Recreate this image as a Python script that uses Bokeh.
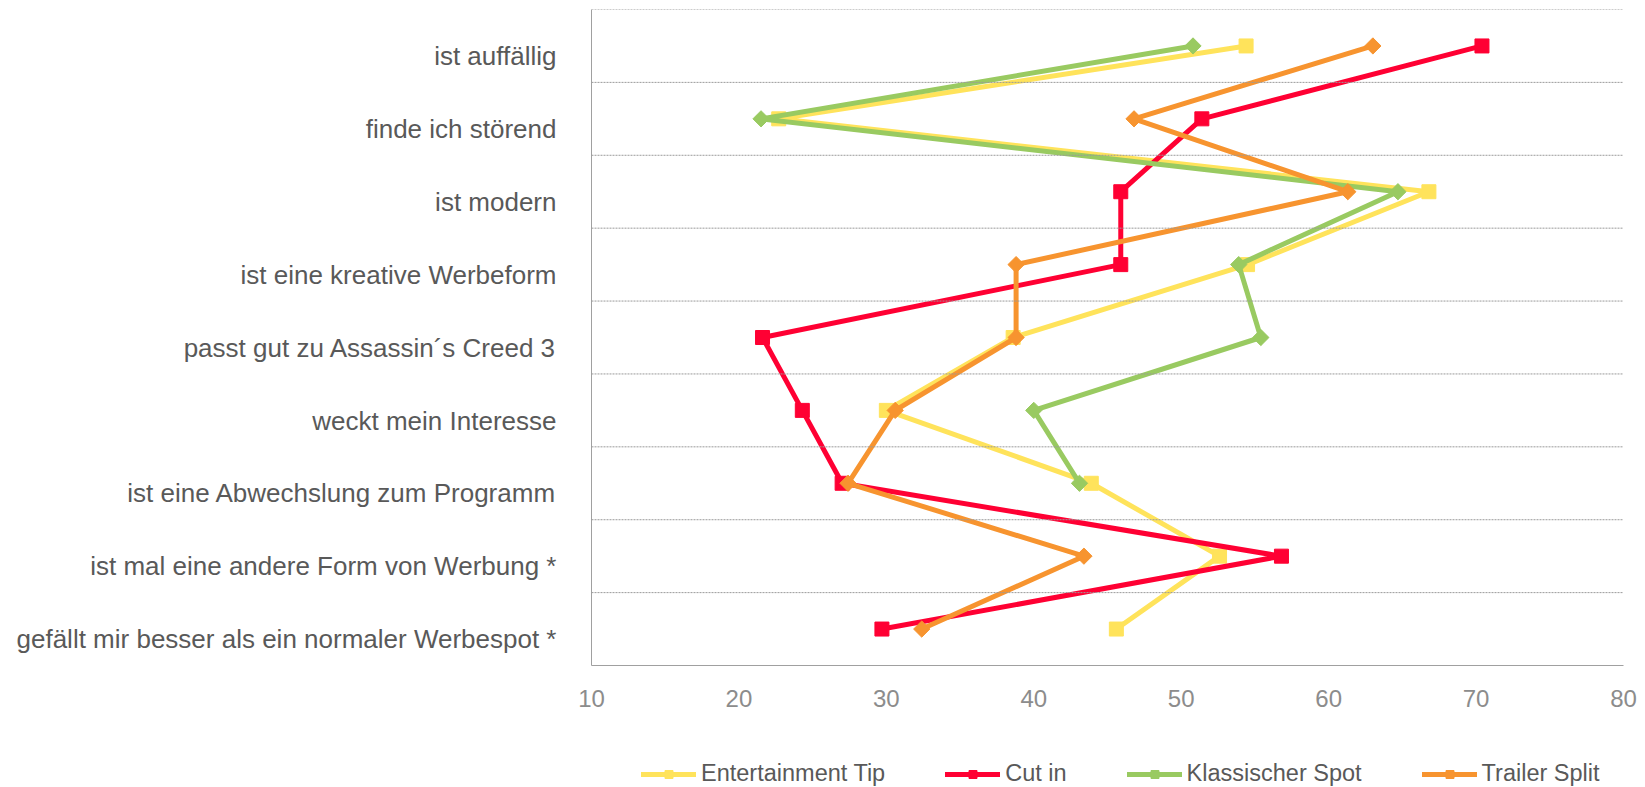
import math
from bokeh.plotting import figure
from bokeh.layouts import column
from bokeh.models import (Range1d, FixedTicker, Span, Legend, LegendItem,
                          ColumnDataSource, LinearAxis)
from bokeh.embed import file_html
from bokeh.resources import INLINE

nan = float("nan")

categories = [
    "ist auffällig",
    "finde ich störend",
    "ist modern",
    "ist eine kreative Werbeform",
    "passt gut zu Assassin´s Creed 3",
    "weckt mein Interesse",
    "ist eine Abwechslung zum Programm",
    "ist mal eine andere Form von Werbung *",
    "gefällt mir besser als ein normaler Werbespot *",
]
series_names = ["Entertainment Tip", "Cut in", "Klassischer Spot", "Trailer Split"]
entertainment_tip = [54.4, 22.7, 66.8, 54.5, 38.6, 30.0, 43.9, 52.6, 45.6]
cut_in = [70.4, 51.4, 45.9, 45.9, 21.6, 24.3, 27.0, 56.8, 29.7]
klassischer_spot = [50.8, 21.5, 64.7, 53.9, 55.4, 40.0, 43.1, nan, nan]
trailer_split = [63.0, 46.8, 61.3, 38.8, 38.8, 30.6, 27.4, 43.4, 32.4]
x_ticks = [10, 20, 30, 40, 50, 60, 70, 80]

series_values = [entertainment_tip, cut_in, klassischer_spot, trailer_split]
colors = ["#FFE35B", "#FF0033", "#99CA61", "#F7942F"]
angles = [0, 0, math.pi / 4, math.pi / 4]
sizes = [14, 14, 11.5, 11.5]

FONT = "Liberation Sans"
n = len(categories)
# row index of each category, first category at the top
row_of = {c: n - 0.5 - i for i, c in enumerate(categories)}
label_shift = 0.14  # category labels sit slightly below their row centre

p = figure(
    width=1637, height=720,
    y_range=Range1d(0, n),
    x_range=Range1d(x_ticks[0], x_ticks[-1]),
    output_backend="svg", toolbar_location=None,
    min_border_left=591, min_border_right=14, min_border_top=9, min_border_bottom=55,
)
p.outline_line_color = None
p.xgrid.visible = False
p.ygrid.visible = False

# dotted category separators
for b in range(1, n + 1):
    p.add_layout(Span(location=b, dimension="width", line_color="#9a9a9a",
                      line_dash="2 1", line_width=1))

# x axis
p.xaxis.ticker = FixedTicker(ticks=x_ticks)
p.xaxis.axis_line_color = "#a0a0a0"
p.xaxis.major_tick_line_color = None
p.xaxis.minor_tick_line_color = None
p.xaxis.major_label_text_font = FONT
p.xaxis.major_label_text_font_size = "24px"
p.xaxis.major_label_text_color = "#8c8c8c"
p.xaxis.major_label_standoff = 18

# y axis: category labels on a slightly shifted companion range
p.yaxis.visible = False
p.extra_y_ranges = {"labels": Range1d(start=-0.5 + label_shift, end=n - 0.5 + label_shift)}
ylab = LinearAxis(
    y_range_name="labels",
    ticker=FixedTicker(ticks=list(range(n))),
    major_label_overrides={i: c for i, c in enumerate(categories[::-1])},
    axis_line_color="#a0a0a0",
    major_tick_line_color=None, minor_tick_line_color=None,
    major_label_text_font=FONT, major_label_text_font_size="26px",
    major_label_text_color="#595959", major_label_standoff=29,
)
p.add_layout(ylab, "left")

ys = [row_of[c] for c in categories]
sources = []
for name, vals, col, ang, sz in zip(series_names, series_values, colors, angles, sizes):
    src = ColumnDataSource(data=dict(x=vals, y=ys, cat=categories))
    sources.append(src)
    p.line("x", "y", source=src, line_color=col, line_width=5,
           line_join="round", line_cap="round")
    p.scatter("x", "y", source=src, marker="square", size=sz, angle=ang,
              fill_color=col, line_color=col, line_width=1)

# legend strip below the chart (its view range lies outside the data, so only the legend shows)
lg = figure(width=1637, height=67, output_backend="svg", toolbar_location=None,
            x_axis_location=None, y_axis_location=None,
            x_range=p.x_range, y_range=Range1d(n + 1, n + 2),
            min_border=0, min_border_left=591, min_border_right=14,
            min_border_top=0, min_border_bottom=0)
lg.outline_line_color = None
lg.xgrid.visible = False
lg.ygrid.visible = False
items = []
for name, src, col, ang in zip(series_names, sources, colors, angles):
    lr = lg.line("x", "y", source=src, line_color=col, line_width=5,
                 line_join="round", line_cap="round")
    sr = lg.scatter("x", "y", source=src, marker="square", angle=ang,
                    fill_color=col, line_color=col, line_width=1)
    items.append(LegendItem(label=name, renderers=[lr, sr]))

legend = Legend(
    items=items, orientation="horizontal", location=(50, 0),
    glyph_width=55, glyph_height=20, label_standoff=5, spacing=60,
    padding=0, margin=0, border_line_color=None, background_fill_alpha=0,
    label_text_font=FONT, label_text_font_size="23.5px", label_text_color="#595959",
)
lg.add_layout(legend)

layout = column(p, lg, spacing=0)
open("out.html", "w").write(file_html(layout, INLINE))
